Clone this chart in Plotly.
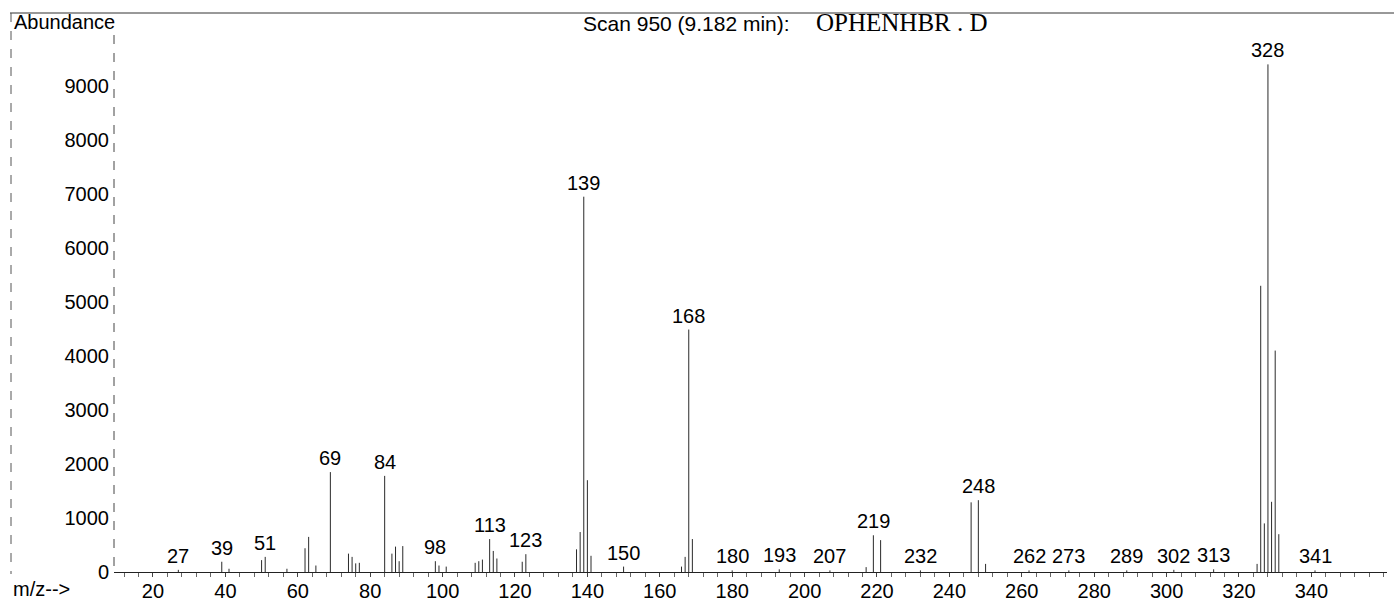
import plotly.graph_objects as go

# ---- data ----
mz = [27, 39, 41, 50, 51, 57, 62, 63, 65, 69, 74, 75, 76, 77, 84, 86, 87, 88, 89,
      98, 99, 101, 109, 110, 111, 113, 114, 115, 122, 123, 137, 138, 139, 140, 141,
      150, 166, 167, 168, 169, 180, 193, 207, 217, 219, 221, 232, 246, 248, 250,
      262, 273, 289, 302, 313, 325, 326, 327, 328, 329, 330, 331, 341]
abundance = [40, 190, 60, 220, 280, 60, 440, 650, 120, 1850, 340, 280, 160, 170, 1780, 340, 470, 200, 480,
             200, 120, 100, 170, 200, 230, 610, 390, 250, 190, 330, 420, 740, 6950, 1700, 300,
             100, 100, 280, 4490, 610, 30, 50, 30, 90, 680, 590, 30, 1290, 1330, 150,
             30, 30, 30, 40, 50, 150, 5300, 900, 9400, 1300, 4100, 700, 30]
label_mz = [27, 39, 51, 69, 84, 98, 113, 123, 139, 150, 168, 180, 193, 207, 219,
            232, 248, 262, 273, 289, 302, 313, 328, 341]
x_ticks = [20, 40, 60, 80, 100, 120, 140, 160, 180, 200, 220, 240, 260, 280, 300, 320, 340]
y_ticks = [0, 1000, 2000, 3000, 4000, 5000, 6000, 7000, 8000, 9000]

title_scan = "Scan 950 (9.182 min):"
title_file = "OPHENHBR . D"

W, H = 1394, 603
ML, MR, MT, MB = 114, 7, 12, 31
PW = W - ML - MR
PH = H - MT - MB
X_RANGE = [9.23, 9.23 + PW / 3.62]
Y_RANGE = [0, 10370]

def px_x(px):
    return (px - ML) / PW

def px_y(py):
    return (H - MB - py) / PH

xs, ys = [], []
for m, a in zip(mz, abundance):
    xs += [m, m, None]
    ys += [0, a, None]

fig = go.Figure()
fig.add_trace(go.Scatter(x=xs, y=ys, mode="lines",
                         line=dict(color="#2a2a2a", width=1),
                         hoverinfo="skip", showlegend=False))

ab = dict(zip(mz, abundance))
ann = []
for m in label_mz:
    ann.append(dict(x=m, y=ab[m], xref="x", yref="y", text=str(m), showarrow=False,
                    yanchor="bottom", xanchor="center", yshift=1,
                    font=dict(family="Liberation Sans, Arial", size=20, color="black")))

ann.append(dict(x=px_x(12), y=px_y(22), xref="paper", yref="paper", text="Abundance",
                showarrow=False, xanchor="left", yanchor="middle",
                font=dict(family="Liberation Sans, Arial", size=20, color="black")))
ann.append(dict(x=px_x(11), y=px_y(589), xref="paper", yref="paper", text="m/z-->",
                showarrow=False, xanchor="left", yanchor="middle",
                font=dict(family="Liberation Sans, Arial", size=20, color="black")))
ann.append(dict(x=px_x(581), y=px_y(23), xref="paper", yref="paper", text=title_scan,
                showarrow=False, xanchor="left", yanchor="middle",
                font=dict(family="Liberation Sans, Arial", size=21, color="black")))
ann.append(dict(x=px_x(814), y=px_y(22), xref="paper", yref="paper", text=title_file,
                showarrow=False, xanchor="left", yanchor="middle",
                font=dict(family="Liberation Serif, Times New Roman", size=25, color="black")))

shapes = [
    # top frame line
    dict(type="line", xref="paper", yref="paper", x0=px_x(10), x1=px_x(1394),
         y0=px_y(13), y1=px_y(13), line=dict(color="#333", width=1)),
    # left frame line
    dict(type="line", xref="paper", yref="paper", x0=px_x(11), x1=px_x(11),
         y0=px_y(13), y1=px_y(574), line=dict(color="#555", width=1, dash="dash")),
    # y axis line
    dict(type="line", xref="paper", yref="paper", x0=0, x1=0,
         y0=px_y(35), y1=0, line=dict(color="#444", width=1, dash="dash")),
]

fig.update_layout(
    width=W, height=H,
    margin=dict(l=ML, r=MR, t=MT, b=MB, pad=0, autoexpand=False),
    paper_bgcolor="white", plot_bgcolor="white",
    annotations=ann, shapes=shapes,
    font=dict(family="Liberation Sans, Arial", size=20, color="black"),
    xaxis=dict(range=X_RANGE, tickmode="array", tickvals=x_ticks,
               ticktext=[str(v) for v in x_ticks], automargin=False,
               showgrid=False, zeroline=False, showline=True, linecolor="#222", linewidth=1,
               ticks="outside", ticklen=4, tickcolor="#444",
               minor=dict(dtick=4, tick0=0, ticks="outside", ticklen=4, tickcolor="#666", showgrid=False),
               tickfont=dict(size=20), ticklabelstandoff=-3),
    yaxis=dict(range=Y_RANGE, tickmode="array", tickvals=y_ticks,
               ticktext=[str(v) for v in y_ticks], automargin=False,
               showgrid=False, zeroline=False, showline=False, ticks="",
               tickfont=dict(size=20), ticklabelstandoff=4),
)

fig.write_html("out.html", config={"displayModeBar": False},
               post_script="document.body.style.margin='0';document.body.style.overflow='hidden';")
